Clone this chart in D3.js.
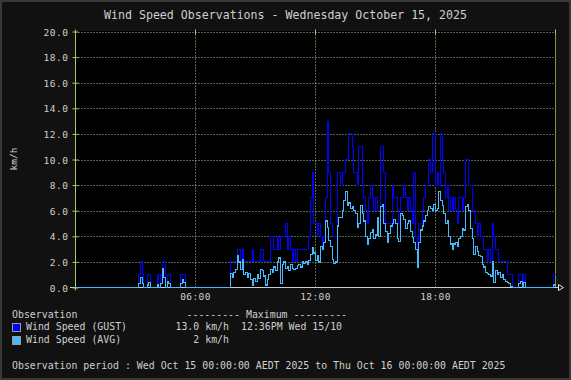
<!DOCTYPE html>
<html>
<head>
<meta charset="utf-8">
<script src="https://cdn.jsdelivr.net/npm/d3@7"></script>
<style>
  body { margin: 0; background: #111; }
  svg { display: block; }
  text { font-family: "DejaVu Sans Mono", monospace; fill: #cfcfcf; }
</style>
</head>
<body>
<div id="chart"></div>
<script>
// 5 minute samples, one row per hour (km/h)
const gust = [
  0,0,0,0,0,0,0,0,0,0,0,0,
  0,0,0,0,0,0,0,0,0,0,0,0,
  0,0,0,0,0,0,0,0,0,0,0,0,
  0,0,1,2,1,0,0,1,1,0,0,0,
  0,1,0,1,2,2,0,1,1,0,0,0,
  0,0,0,1,1,1,0,0,0,0,0,0,
  0,0,0,0,0,0,0,0,0,0,0,0,
  0,0,0,0,0,0,0,0,0,2,2,2,
  2,3,3,2,3,2,2,2,2,2,3,2,
  2,2,2,3,3,2,2,2,2,4,4,3,
  3,4,3,4,4,4,5,3,4,3,2,3,
  2,3,3,3,3,3,3,3,4,7,9,5,
  5,4,5,4,3,4,7,13,9,5,4,4,
  4,9,9,8,9,9,10,10,12,12,11,9,
  9,8,11,11,8,7,6,5,7,8,7,6,
  7,6,6,11,11,9,5,5,5,5,8,7,
  7,6,5,7,7,8,7,6,7,6,5,9,
  4,3,5,5,6,7,8,8,10,9,12,12,
  8,9,8,12,10,9,7,8,6,7,6,7,
  6,5,7,7,6,7,10,10,8,8,6,6,
  5,4,5,4,4,3,3,2,3,2,5,4,
  3,3,2,2,2,2,2,1,1,1,0,0,
  0,0,1,1,0,1,0,0,0,0,0,0,
  0,0,0,0,0,0,0,0,0,0,0,1
];

const avg = [
  0,0,0,0,0,0,0,0,0,0,0,0,
  0,0,0,0,0,0,0,0,0,0,0,0,
  0,0,0,0,0,0,0,0,0,0,0,0,
  0,0,0.3,0.8,0.3,0,0,0.2,0.4,0,0,0,
  0,0.2,0,0.3,1.5,0.8,0,0.5,0.3,0,0,0,
  0,0,0,0.3,0.6,0.4,0,0,0,0,0,0,
  0,0,0,0,0,0,0,0,0,0,0,0,
  0,0,0,0,0,0,0,0,0,1.1,0.8,1.2,
  1.4,2.5,2.0,1.4,2.2,1.0,1.2,0.8,1.1,0.6,0.2,0.7,
  0.5,1.0,0.7,1.4,1.3,0.9,0.2,0.6,1.0,1.4,1.2,1.6,
  1.3,2.0,2.3,0.3,1.8,2.0,1.5,1.6,1.3,1.8,1.5,1.4,
  1.5,1.7,1.8,1.6,2.0,1.9,2.0,1.8,2.1,2.6,3.1,2.7,
  2.1,2.5,2.0,3.2,3.0,3.5,5.2,4.7,3.7,3.2,2.2,1.9,
  2.0,4.8,5.5,5.5,6.0,6.8,7.5,6.4,6.6,6.2,6.3,6.0,
  5.8,4.7,5.0,6.4,5.8,5.2,4.0,3.4,3.8,4.3,4.5,3.8,
  4.1,5.5,4.0,6.3,6.5,5.0,4.4,3.5,4.2,4.8,5.0,5.3,
  5.0,3.8,3.6,5.8,5.6,5.3,4.6,5.0,5.2,4.4,3.9,3.5,
  3.0,1.6,3.5,4.5,4.8,5.2,5.6,6.0,6.3,6.2,6.0,6.5,
  6.0,6.2,7.5,6.8,6.4,5.8,5.0,5.2,4.0,3.4,3.0,3.4,
  3.5,3.2,3.8,4.0,4.6,4.5,6.3,6.5,6.0,4.6,3.8,2.6,
  3.2,2.8,2.5,2.4,1.8,1.6,1.2,1.1,1.0,0.9,2.0,0.4,
  1.3,1.0,1.2,0.8,1.0,0.6,0.5,0.4,0.3,0.1,0,0,
  0,0,0.3,0.5,0,0.4,0,0,0,0,0,0,
  0,0,0,0,0,0,0,0,0,0,0,0.2
];

const yTicks = [0, 2, 4, 6, 8, 10, 12, 14, 16, 18, 20];
const xTicks = [6, 12, 18];
const xTickLabels = ["06:00", "12:00", "18:00"];

const title = "Wind Speed Observations - Wednesday October 15, 2025";
const seriesNames = ["Wind Speed (GUST)", "Wind Speed (AVG)"];
const seriesMax = ["13.0 km/h", "2 km/h"];
const gustMaxTime = "12:36PM Wed 15/10";
const period = "Observation period : Wed Oct 15 00:00:00 AEDT 2025 to Thu Oct 16 00:00:00 AEDT 2025";

const width = 571, height = 380;
const colors = { gust: "#0000ff", avg: "#44bbff", grid: "#9ccc94", axis: "#a8c470" };

const svg = d3.select("#chart").append("svg")
    .attr("width", width)
    .attr("height", height);

// background + frame
svg.append("rect").attr("width", width).attr("height", height).attr("fill", "#111");
svg.append("rect").attr("x", 1).attr("y", 1).attr("width", width - 2).attr("height", height - 2)
    .attr("fill", "none").attr("stroke", "#383838").attr("stroke-width", 2);

const x = d3.scaleLinear().domain([0, 24]).range([75.5, 555.5]);
const y = d3.scaleLinear().domain([0, 20]).range([287.5, 31.5]);

// canvas
svg.append("rect").attr("x", 75).attr("y", 31).attr("width", 480).attr("height", 257).attr("fill", "#000");

// grid
svg.append("g").selectAll("line").data(yTicks.filter(d => d > 0)).join("line")
    .attr("x1", x(0)).attr("x2", x(24))
    .attr("y1", d => Math.round(y(d)) + 0.5).attr("y2", d => Math.round(y(d)) + 0.5)
    .attr("stroke", colors.grid).attr("stroke-dasharray", "1,2");
svg.append("g").selectAll("line").data(xTicks).join("line")
    .attr("x1", d => x(d)).attr("x2", d => x(d))
    .attr("y1", y(20)).attr("y2", y(0))
    .attr("stroke", colors.grid).attr("stroke-dasharray", "1,2");

// axes
svg.append("line").attr("x1", x(24)).attr("x2", x(24)).attr("y1", y(20)).attr("y2", y(0))
    .attr("stroke", "#8a8a4a");
svg.append("line").attr("x1", 70).attr("x2", 559).attr("y1", y(0)).attr("y2", y(0))
    .attr("stroke", "#cccccc");
svg.append("path")
    .attr("d", `M558.5,284.5L563.5,287.5L558.5,290.5Z`)
    .attr("fill", "none").attr("stroke", "#e0e0e0");

const yAxis = svg.append("g")
    .attr("transform", `translate(${x(0)},0)`)
    .call(d3.axisLeft(y).tickValues(yTicks).tickFormat(d3.format(".1f")).tickSize(3).tickPadding(4));
yAxis.select(".domain").attr("stroke", colors.axis).attr("d", `M0,${y(0) + 3}V${y(20)}`);
yAxis.selectAll(".tick line").attr("stroke", colors.axis).attr("x1", 3);
yAxis.selectAll(".tick text")
    .attr("fill", "#cfcfcf").style("font-size", "9.5px").style("letter-spacing", "0.5px")
    .attr("font-family", null).attr("dy", "0.38em");

// top ticks
svg.append("g").selectAll("line").data([0].concat(xTicks, [24])).join("line")
    .attr("x1", d => x(d)).attr("x2", d => x(d))
    .attr("y1", y(20) - 2).attr("y2", y(20) + 3)
    .attr("stroke", colors.axis);

svg.append("g").selectAll("text").data(xTicks).join("text")
    .attr("x", d => x(d)).attr("y", 300)
    .attr("text-anchor", "middle")
    .style("font-size", "9.5px").style("letter-spacing", "0.4px")
    .text((d, i) => xTickLabels[i]);

svg.append("text")
    .attr("transform", "translate(16.5,159) rotate(-90)")
    .attr("text-anchor", "middle")
    .style("font-size", "9.5px")
    .text("km/h");

// data lines (stepped, avg drawn on top)
const line = d3.line()
    .x(d => x(d[0]))
    .y(d => y(d[1]))
    .curve(d3.curveStepAfter);

function toPoints(arr) {
    const pts = arr.map((v, i) => [i / 12, v]);
    pts.push([24, arr[arr.length - 1]]);
    return pts;
}

svg.append("path").datum(toPoints(gust))
    .attr("d", line).attr("fill", "none")
    .attr("stroke", colors.gust).attr("stroke-width", 1)
    .attr("shape-rendering", "crispEdges");
svg.append("path").datum(toPoints(avg))
    .attr("d", line).attr("fill", "none")
    .attr("stroke", colors.avg).attr("stroke-width", 1.2)
    .attr("shape-rendering", "crispEdges");

// title
svg.append("text")
    .attr("x", width / 2).attr("y", 19)
    .attr("text-anchor", "middle")
    .style("font-size", "11.6px").attr("fill", "#dcdcdc")
    .text(title);

// legend
const lg = svg.append("g").style("font-size", "9.9px");
lg.append("text").attr("x", 12).attr("y", 318).text("Observation");
lg.append("text").attr("x", 186.5).attr("y", 318).text("--------- Maximum ---------");

[colors.gust, colors.avg].forEach((c, i) => {
    const yy = 330 + i * 13;
    lg.append("rect")
        .attr("x", 12.5).attr("y", yy - 6.5).attr("width", 8).attr("height", 8)
        .attr("fill", c).attr("stroke", "#999");
    lg.append("text").attr("x", 26).attr("y", yy).text(seriesNames[i]);
    lg.append("text").attr("x", 229).attr("y", yy).attr("text-anchor", "end").text(seriesMax[i]);
});
lg.append("text").attr("x", 241).attr("y", 330).text(gustMaxTime);
lg.append("text").attr("x", 12).attr("y", 369).text(period);
</script>
</body>
</html>
